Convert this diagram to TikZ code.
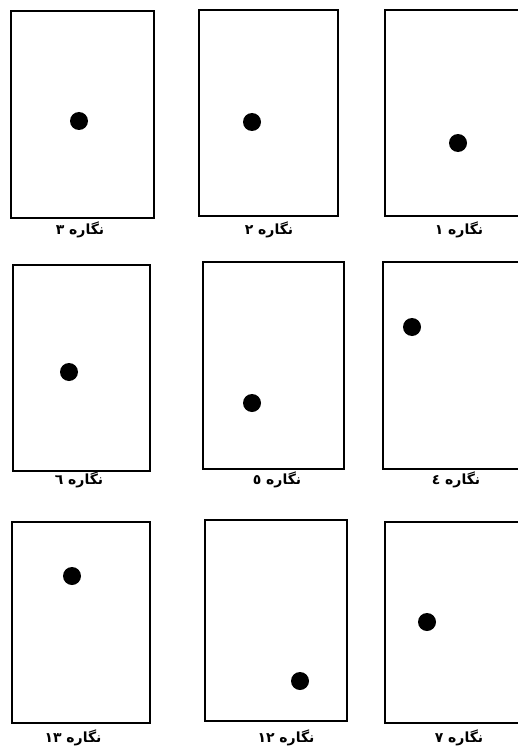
\documentclass[tikz,border=0pt]{standalone}
\usepackage{fontspec}
\newfontfamily\arabicfont[Script=Arabic]{DejaVu Sans}
\TeXXeTstate=1
\tikzset{
  frame/.style={draw, rectangle, line width=2.2pt, inner sep=0pt},
  dot/.style={circle, fill=black, inner sep=0pt, minimum size=18pt},
  caption/.style={inner sep=1pt, font=\arabicfont\bfseries\fontsize{14}{16}\selectfont}
}
\newcommand{\negareh}[1]{\beginR نگاره #1\endR}
\begin{document}
\begin{tikzpicture}[x=1pt, y=-1pt]
  \clip (0,0) rectangle (518,749);
  \fill[white] (0,0) rectangle (518,749);
  % top row
  \node[frame, minimum width=143pt, minimum height=207pt] (f3) at (82.5,114.5) {};
  \node[frame, minimum width=139pt, minimum height=206pt] (f2) at (268.5,113) {};
  \node[frame, minimum width=140pt, minimum height=206pt] (f1) at (455,113) {};
  \node[dot] (d3) at (79,121) {};
  \node[dot] (d2) at (252,122) {};
  \node[dot] (d1) at (458,143) {};
  \node[caption] (c3) at (80,230) {\negareh{٣}};
  \node[caption] (c2) at (269,230) {\negareh{٢}};
  \node[caption] (c1) at (459,230) {\negareh{١}};
  % middle row
  \node[frame, minimum width=137pt, minimum height=206pt] (f6) at (81.5,368) {};
  \node[frame, minimum width=141pt, minimum height=207pt] (f5) at (273.5,365.5) {};
  \node[frame, minimum width=140pt, minimum height=207pt] (f4) at (453,365.5) {};
  \node[dot] (d6) at (69,372) {};
  \node[dot] (d5) at (252,403) {};
  \node[dot] (d4) at (412,327) {};
  \node[caption] (c6) at (79,480) {\negareh{٦}};
  \node[caption] (c5) at (277,480) {\negareh{٥}};
  \node[caption] (c4) at (456,480) {\negareh{٤}};
  % bottom row
  \node[frame, minimum width=138pt, minimum height=201pt] (f13) at (81,622.5) {};
  \node[frame, minimum width=142pt, minimum height=201pt] (f12) at (276,620.5) {};
  \node[frame, minimum width=140pt, minimum height=201pt] (f7) at (455,622.5) {};
  \node[dot] (d13) at (72,576) {};
  \node[dot] (d12) at (300,681) {};
  \node[dot] (d7) at (427,622) {};
  \node[caption] (c13) at (73,738) {\negareh{\beginL١٣\endL}};
  \node[caption] (c12) at (286,738) {\negareh{\beginL١٢\endL}};
  \node[caption] (c7) at (459,738) {\negareh{٧}};
\end{tikzpicture}
\end{document}
